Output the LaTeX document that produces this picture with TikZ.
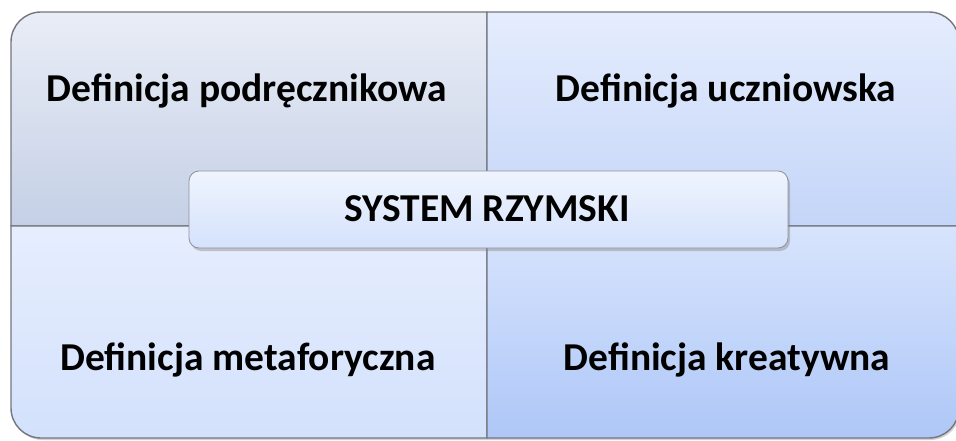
\documentclass[tikz,border=0pt]{standalone}
\usepackage{fontspec}
\setmainfont{Carlito}
\usetikzlibrary{shadows}
\definecolor{tlTop}{RGB}{233,237,246}
\definecolor{tlBot}{RGB}{197,208,230}
\definecolor{trTop}{RGB}{229,237,253}
\definecolor{trBot}{RGB}{196,213,248}
\definecolor{blTop}{RGB}{230,238,254}
\definecolor{blBot}{RGB}{211,225,252}
\definecolor{brTop}{RGB}{216,228,253}
\definecolor{brBot}{RGB}{174,199,247}
\definecolor{cTop}{RGB}{239,244,254}
\definecolor{cBot}{RGB}{213,226,252}
\definecolor{edge}{RGB}{115,118,125}
\tikzset{
  quad/.style={draw=edge, line width=1.4pt, drop shadow={shadow xshift=1.5pt, shadow yshift=-2pt, opacity=0.35}},
  qlabel/.style={anchor=base, font=\bfseries\fontsize{39.5}{46}\selectfont, text=black, inner sep=0pt},
  centerbox/.style={draw=edge!80, line width=0.8pt, rounded corners=10pt, top color=cTop, bottom color=cBot,
    minimum width=599pt, minimum height=77pt, inner sep=0pt,
    drop shadow={shadow xshift=2pt, shadow yshift=-3pt, opacity=0.4}},
  clabel/.style={anchor=base, font=\bfseries\fontsize{39.5}{46}\selectfont, text=black, inner sep=0pt}
}
\begin{document}
\begin{tikzpicture}[x=1pt,y=1pt]
\useasboundingbox (0,0) rectangle (956,440);
\def\r{30}
% top-left
\path[quad, top color=tlTop, bottom color=tlBot]
  (11,214) -- (11,428-\r) arc[start angle=180,end angle=90,radius=\r] -- (487,428) -- (487,214) -- cycle;
% top-right
\path[quad, top color=trTop, bottom color=trBot]
  (487,214) -- (487,428) -- (959-\r,428) arc[start angle=90,end angle=0,radius=\r] -- (959,214) -- cycle;
% bottom-left
\path[quad, top color=blTop, bottom color=blBot]
  (11,214) -- (487,214) -- (487,2) -- (11+\r,2) arc[start angle=270,end angle=180,radius=\r] -- cycle;
% bottom-right
\path[quad, top color=brTop, bottom color=brBot]
  (487,214) -- (959,214) -- (959,2+\r) arc[start angle=0,end angle=-90,radius=\r] -- (487,2) -- cycle;
\node[qlabel] (tl) at (247,338) {Definicja podręcznikowa};
\node[qlabel] (tr) at (726,338) {Definicja uczniowska};
\node[qlabel] (bl) at (248,70) {Definicja metaforyczna};
\node[qlabel] (br) at (727,70) {Definicja kreatywna};
\node[centerbox] (c) at (488.5,230.5) {};
\node[clabel] (ct) at (487,219) {SYSTEM RZYMSKI};
\end{tikzpicture}
\end{document}
